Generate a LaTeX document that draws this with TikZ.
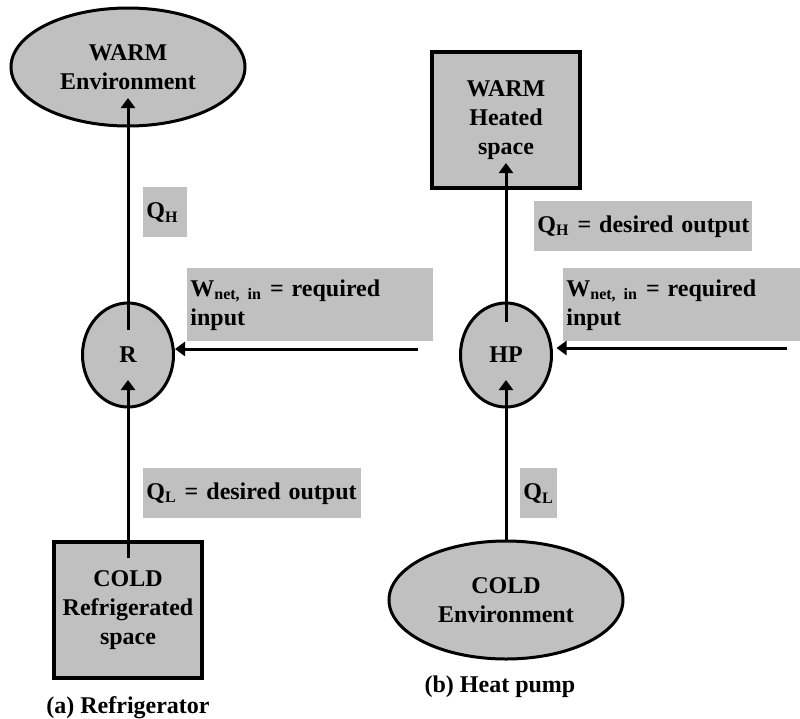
\documentclass[tikz,border=0pt]{standalone}
\usepackage{fontspec}
\setmainfont{Liberation Serif}
\usepackage{tikz}
\usetikzlibrary{shapes,arrows.meta}
\definecolor{boxgray}{RGB}{192,192,192}
\tikzset{
  reservoir/.style={ellipse, draw, line width=1.5pt, fill=boxgray, minimum width=117pt, minimum height=59pt, align=center},
  space/.style={rectangle, draw, line width=1.8pt, fill=boxgray, minimum width=74pt, minimum height=68pt, align=center},
  device/.style={ellipse, draw, line width=1.5pt, fill=boxgray, minimum width=45.5pt, minimum height=52pt},
  tag/.style={rectangle, fill=boxgray, anchor=north west, inner xsep=1.5pt, align=left},
  flow/.style={-{Triangle[length=5pt,width=7pt]}, line width=1.5pt}
}
\newcommand{\hpreservoir}[3] {\node at (#1) (#2) [reservoir] {#3};}
\newcommand{\hpspace}[3] {\node at (#1) (#2) [space] {#3};}
\newcommand{\hpdevice}[3] {\node at (#1) (#2) [device] {#3};}
\newcommand{\hptag}[5] {\node at (#1) (#2) [tag, text width=#3, minimum height=#4] {#5};}

\begin{document}
\begin{tikzpicture}[x=0.5pt, y=-0.5pt, font=\fontsize{12}{14.5}\selectfont\bfseries]
\useasboundingbox (0,0) rectangle (800,719);

\hpreservoir {128,67}{warmL}{WARM\\Environment}
\hpdevice {128,355}{R}{R}
\hpspace {128,610}{coldL}{COLD\\Refrigerated\\space}
\node at (128,708) (capA) {(a) Refrigerator};

\hptag {143,187}{qhL}{19pt}{25pt}{\mbox{Q\textsubscript{H}}}
\hptag {187,268}{wL}{120pt}{36.5pt}{\mbox{W\textsubscript{net, in} = required}\\input}
\hptag {143,468}{qlL}{106pt}{25pt}{\mbox{Q\textsubscript{L} = desired output}}

\draw [flow, shorten <=12.5pt, shorten >=15.5pt] (R.center) -- (warmL.center);
\draw [flow, shorten <=26pt, shorten >=12.5pt] (coldL.center) -- (R.center);
\coordinate (winL) at (418,349);
\draw [flow] (winL) -- (winL -| R.east);

\hpspace {506,120}{warmR}{WARM\\Heated\\space}
\hpdevice {506,355}{HP}{HP}
\hpreservoir {506,600}{coldR}{COLD\\Environment}
\node at (500,687) (capB) {(b) Heat pump};

\hptag {534,201}{qhR}{106pt}{25pt}{\mbox{Q\textsubscript{H} = desired output}}
\hptag {563,268}{wR}{115.5pt}{36.5pt}{\mbox{W\textsubscript{net, in} = required}\\input}
\hptag {520,468}{qlR}{15.5pt}{25pt}{\mbox{Q\textsubscript{L}}}

\draw [flow, shorten <=16.5pt, shorten >=21.5pt] (HP.center) -- (warmR.center);
\draw [flow, shorten >=12.5pt] (coldR.north) -- (HP.center);
\coordinate (winR) at (787,348);
\draw [flow, shorten >=1.75pt] (winR) -- (winR -| HP.east);

\end{tikzpicture}
\end{document}
